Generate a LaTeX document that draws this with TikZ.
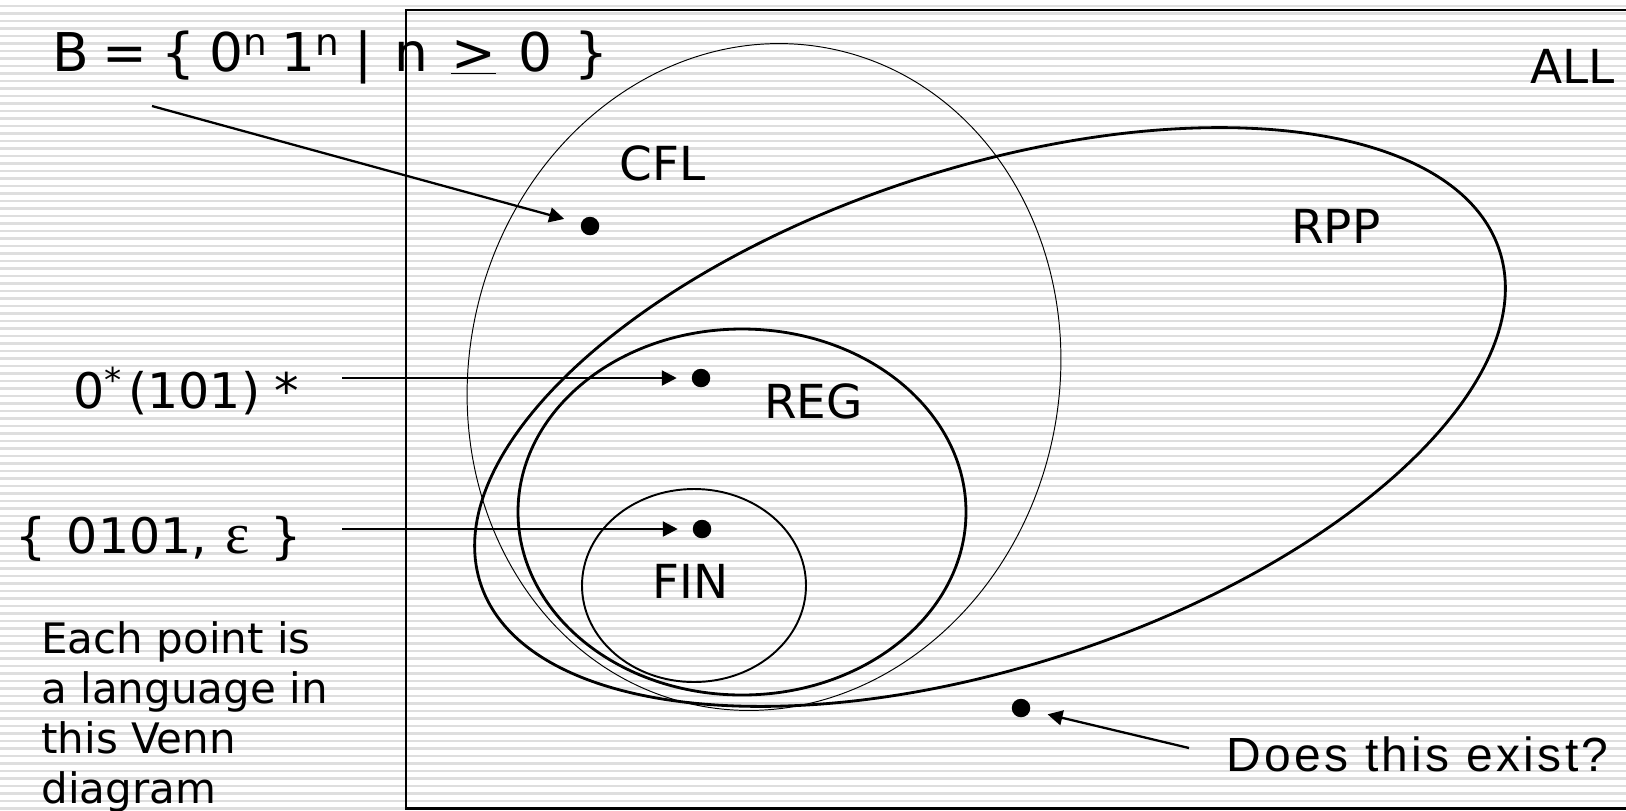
\documentclass[tikz,border=0pt]{standalone}
\usepackage{fontspec}
\setmainfont{DejaVu Sans}
\newfontfamily\epsfont{Liberation Serif}
\newfontfamily\askfont[LetterSpace=7]{Liberation Sans}
\usetikzlibrary{arrows.meta}
\definecolor{cStripe}{RGB}{222,222,222}

\begin{document}
\begin{tikzpicture}[x=0.2mm, y=-0.2mm,
    stripe/.style={cStripe, line width=1.3pt},
    frame/.style={line width=1.3pt},
    setthick/.style={line width=1.6pt},
    lbl/.style={anchor=base west, inner sep=0pt, font=\fontsize{26.7}{32}\selectfont},
    expr/.style={anchor=base west, inner sep=0pt, font=\fontsize{27.9}{34}\selectfont},
    langdot/.style={circle, fill, inner sep=0pt, outer sep=0pt, minimum size=3.7mm},
    arr/.style={line width=1.3pt, -{Triangle[length=3mm, width=3mm]}, shorten >=3mm}]
    \useasboundingbox (0,0) rectangle (1626,810);

    % striped background
    \fill[white] (0,0) rectangle (1626,810);
    \foreach \k in {0,...,108}
        \draw[stripe] (0,6+7.5*\k) -- (1626,6+7.5*\k);

    % ALL box (right side runs off the page)
    \draw[frame] (1640,10) -- (406,10) -- (406,808.5) -- (1640,808.5);

    % Sets
    \draw[setthick, rotate around={18.1:(990,417)}] (990,417) ellipse [x radius=536, y radius=249];
    \draw[line width=0.55pt, rotate around={-12:(764,377)}] (764,377) ellipse [x radius=295, y radius=335];
    \draw[setthick] (742,512) ellipse [x radius=224, y radius=183];
    \draw[line width=1.1pt] (694,585.5) ellipse [x radius=112, y radius=96.5];

    % Set names
    \node[lbl] (all) at (1530,83) {ALL};
    \node[lbl] (rpp) at (1291,243) {RPP};
    \node[lbl] (cfl) at (619,180) {CFL};
    \node[lbl] (reg) at (764,418) {REG};
    \node[lbl] (fin) at (652,598) {FIN};

    % Languages (points)
    \node[langdot] (cfldot) at (590,226) {};
    \node[langdot] (regdot) at (701,378) {};
    \node[langdot] (findot) at (702,529) {};
    \node[langdot] (askdot) at (1021,708) {};

    % Left-hand labels
    \node[anchor=base west, inner sep=0pt, font=\fontsize{30.4}{36}\selectfont] (bset) at (52,71)
        {B\hspace{0.26em}=\hspace{0.26em}\{\hspace{0.26em}0\textsuperscript{n}\hspace{0.26em}1\textsuperscript{n}\hspace{0.26em}|\hspace{0.42em}n\hspace{0.42em}\underline{>}\hspace{0.42em}0\hspace{0.42em}\}};
    \node[expr] (regex) at (73,408) {0\textsuperscript{*}\hspace{0.12em}(101)\hspace{0.3em}*};
    \node[expr] (finset) at (15,553) {\{\hspace{0.1em} 0101, \hspace{0.05em}{\epsfont\fontsize{33}{34}\selectfont ε}\hspace{0.1em} \}};
    \node[anchor=north west, inner sep=0pt, align=left, font=\fontsize{23.9}{28.4}\selectfont] (each) at (41,621)
        {Each point is\\a language in\\this Venn\\diagram};
    \node[anchor=base west, inner sep=0pt, font=\askfont\fontsize{27.3}{32}\selectfont] (ask) at (1226,771) {Does this exist?};

    % Arrows
    \coordinate (btail) at (152,106);
    \coordinate (regtail) at (342,378);
    \coordinate (fintail) at (342,529);
    \coordinate (asktail) at (1189,748);
    \draw[arr, shorten >=3.5mm] (btail) -- (cfldot);
    \draw[arr] (regtail) -- (regdot);
    \draw[arr] (fintail) -- (findot);
    \draw[arr, shorten >=3.6mm] (asktail) -- (askdot);
\end{tikzpicture}
\end{document}
